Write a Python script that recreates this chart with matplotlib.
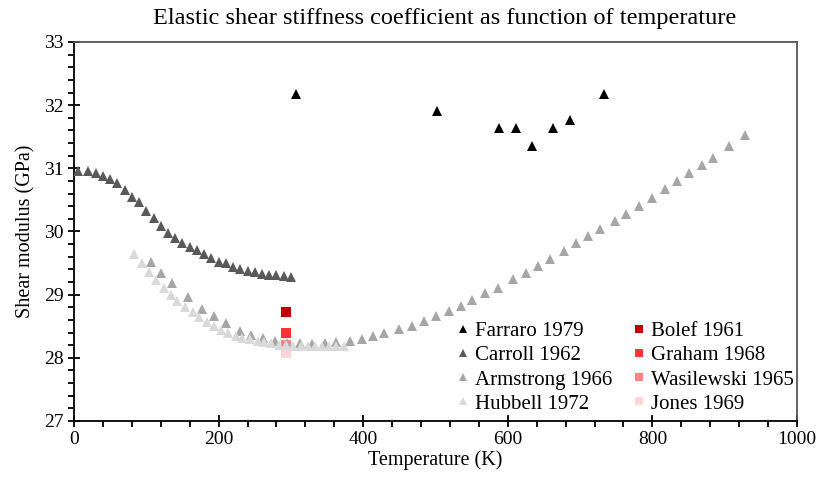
import matplotlib
matplotlib.use("Agg")
import matplotlib.pyplot as plt
from matplotlib.ticker import MultipleLocator
from matplotlib.lines import Line2D

plt.rcParams['font.family'] = ['Liberation Serif', 'DejaVu Serif']

# ---- data ----
farraro_T = [307, 502, 588, 611, 633, 662, 686, 733]
farraro_G = [32.18, 31.91, 31.64, 31.64, 31.35, 31.64, 31.77, 32.18]

carroll_T = [5, 20, 30, 40, 50, 60, 70, 80, 90, 100, 110, 120, 130, 140, 150,
             160, 170, 180, 190, 200, 210, 220, 230, 240, 250, 260, 270, 280, 290, 300]
carroll_G = [30.96, 30.95, 30.93, 30.88, 30.83, 30.76, 30.66, 30.55, 30.46, 30.33,
             30.21, 30.08, 29.97, 29.89, 29.82, 29.76, 29.71, 29.64, 29.58, 29.52,
             29.50, 29.44, 29.41, 29.38, 29.36, 29.33, 29.31, 29.31, 29.30, 29.28]

armstrong_T = [106, 120, 135, 158, 177, 193, 210, 229, 245, 261, 278, 294, 312, 329,
               347, 363, 382, 398, 414, 429, 450, 468, 484, 501, 519, 535, 551, 569,
               586, 607, 625, 642, 659, 678, 694, 711, 728, 748, 764, 782, 799, 818,
               834, 850, 868, 884, 906, 928]
armstrong_G = [29.51, 29.34, 29.18, 28.96, 28.78, 28.66, 28.55, 28.43, 28.36, 28.32,
               28.27, 28.24, 28.23, 28.22, 28.23, 28.25, 28.27, 28.30, 28.34, 28.39,
               28.45, 28.51, 28.58, 28.66, 28.74, 28.82, 28.91, 29.02, 29.11, 29.24,
               29.35, 29.46, 29.57, 29.69, 29.81, 29.93, 30.04, 30.17, 30.28, 30.40,
               30.53, 30.67, 30.80, 30.92, 31.05, 31.16, 31.36, 31.52]

hubbell_T = [83, 94, 104, 113, 124, 134, 143, 154, 164, 173, 184, 194, 203, 213, 224,
             233, 243, 254, 263, 273, 284, 293, 303, 314, 323, 333, 343, 353, 363, 373]
hubbell_G = [29.65, 29.50, 29.36, 29.23, 29.11, 29.00, 28.90, 28.81, 28.72, 28.64,
             28.57, 28.50, 28.44, 28.39, 28.35, 28.32, 28.29, 28.27, 28.25, 28.23,
             28.21, 28.20, 28.19, 28.19, 28.18, 28.18, 28.18, 28.18, 28.18, 28.19]

bolef_T, bolef_G = [293], [28.73]
graham_T, graham_G = [293], [28.40]
wasil_T, wasil_G = [293], [28.20]
jones_T, jones_G = [293], [28.07]

# ---- plot ----
fig = plt.figure(figsize=(8.22, 4.91), dpi=100)
ax = fig.add_axes([0.090, 0.1426, 0.8796, 0.7719])

ms_tri = 7.5
ms_sq = 6.5
ax.plot(bolef_T, bolef_G, 's', color='#c00000', ms=ms_sq, mew=0, label='Bolef 1961', zorder=2)
ax.plot(graham_T, graham_G, 's', color='#ff3333', ms=ms_sq, mew=0, label='Graham 1968', zorder=2)
ax.plot(wasil_T, wasil_G, 's', color='#ff8585', ms=ms_sq, mew=0, label='Wasilewski 1965', zorder=2)
ax.plot(jones_T, jones_G, 's', color='#ffd5d5', ms=ms_sq, mew=0, label='Jones 1969', zorder=2)
ax.plot(farraro_T, farraro_G, '^', color='#000000', ms=ms_tri, mew=0, label='Farraro 1979', zorder=3)
ax.plot(carroll_T, carroll_G, '^', color='#595959', ms=ms_tri, mew=0, label='Carroll 1962', zorder=3)
ax.plot(armstrong_T, armstrong_G, '^', color='#a6a6a6', ms=ms_tri, mew=0, label='Armstrong 1966', zorder=3)
ax.plot(hubbell_T, hubbell_G, '^', color='#d9d9d9', ms=ms_tri, mew=0, label='Hubbell 1972', zorder=4)

ax.set_xlim(0, 1000)
ax.set_ylim(27, 33)
ax.xaxis.set_major_locator(MultipleLocator(200))
ax.xaxis.set_minor_locator(MultipleLocator(40))
ax.yaxis.set_major_locator(MultipleLocator(1))
ax.yaxis.set_minor_locator(MultipleLocator(0.2))
ax.tick_params(which='major', direction='inout', length=9, width=1.3, labelsize=14, pad=3)
ax.tick_params(which='minor', direction='out', length=4, width=1.3)
for s in ax.spines.values():
    s.set_linewidth(1.3)
ax.spines['top'].set_color('#555555')
ax.spines['right'].set_color('#555555')

ax.set_xlabel('Temperature (K)', fontsize=14.5, labelpad=1)
ax.set_ylabel('Shear modulus (GPa)', fontsize=14.5, labelpad=6)

fig.text(0.541, 0.962, 'Elastic shear stiffness coefficient as function of temperature',
         ha='center', va='center', fontsize=17.5)

handles, labels = ax.get_legend_handles_labels()
order = ['Farraro 1979', 'Carroll 1962', 'Armstrong 1966', 'Hubbell 1972',
         'Bolef 1961', 'Graham 1968', 'Wasilewski 1965', 'Jones 1969']
hmap = dict(zip(labels, handles))
leg_handles = []
for lab in order:
    h = hmap[lab]
    leg_handles.append(Line2D([], [], ls='none', marker=h.get_marker(), color=h.get_color(),
                              ms=5.5, mew=0))
ax.legend(leg_handles, order, ncol=2, loc='lower right', bbox_to_anchor=(1.0, 0.011),
          frameon=False, fontsize=15, handlelength=0.6, handletextpad=0.3,
          columnspacing=0.95, labelspacing=0.22, borderaxespad=0.0, borderpad=0.15)

fig.savefig('out.png', dpi=100)
